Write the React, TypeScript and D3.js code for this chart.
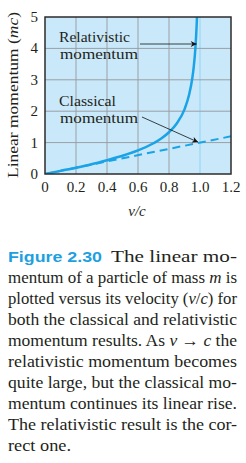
import React from 'react';
import * as d3 from 'd3';

// values
const relV = [0, 0.1, 0.2, 0.3, 0.4, 0.5, 0.6, 0.7, 0.75, 0.8, 0.85, 0.9, 0.93, 0.95, 0.96, 0.97, 0.975, 0.98, 0.984];
const relP = [0, 0.1, 0.2, 0.31, 0.44, 0.58, 0.75, 0.98, 1.13, 1.33, 1.61, 2.06, 2.53, 3.04, 3.43, 3.99, 4.4, 4.92, 5.5];
const clsV = [0, 1.2];
const clsP = [0, 1.2];
const xTicks = [0, 0.2, 0.4, 0.6, 0.8, 1.0, 1.2];
const yTicks = [0, 1, 2, 3, 4, 5];

const captionLines = [
  'mentum of a particle of mass ',
  'plotted versus its velocity (',
  'both the classical and relativistic',
  'momentum results. As ',
  'relativistic momentum becomes',
  'quite large, but the classical mo-',
  'mentum continues its linear rise.',
  'The relativistic result is the cor-',
  'rect one.',
];

const serif = '"Liberation Serif", "DejaVu Serif", serif';
const ink = '#231f20';

const App = () => {
  const width = 246;
  const height = 463;
  const left = 45, right = 231, top = 17, bottom = 174;

  const x = d3.scaleLinear().domain([0, 1.2]).range([left, right]);
  const y = d3.scaleLinear().domain([0, 5]).range([bottom, top]);

  const relLine = d3.line<number>()
    .x((d) => x(d))
    .y((d, i) => y(relP[i]))
    .curve(d3.curveMonotoneX);
  const clsLine = d3.line<number>()
    .x((d) => x(d))
    .y((d, i) => y(clsP[i]));

  const lineH = 21;
  const cap0 = 262;
  const capW = 229;

  return (
    <svg width={width} height={height} style={{ position: 'absolute', left: 0, top: 0, background: '#fff' }}>
      <defs>
        <clipPath id="plot">
          <rect x={left} y={top} width={right - left} height={bottom - top} />
        </clipPath>
        <marker id="arrow" viewBox="0 0 10 10" refX="10" refY="5" markerWidth="9" markerHeight="6" orient="auto" markerUnits="userSpaceOnUse">
          <path d="M0,0 L10,5 L0,10 L3,5 Z" fill="#111" />
        </marker>
      </defs>

      <rect x={left} y={top} width={right - left} height={bottom - top} fill="#c9e9fb" />
      {xTicks.slice(1, 5).map((t) => (
        <line key={'gx' + t} x1={x(t)} x2={x(t)} y1={top} y2={bottom} stroke="#9a9fa3" strokeWidth={1} />
      ))}
      <line x1={x(1)} x2={x(1)} y1={top} y2={bottom} stroke="#8fd3f5" strokeWidth={1} />
      {yTicks.slice(1, 5).map((t) => (
        <line key={'gy' + t} x1={left} x2={right} y1={y(t)} y2={y(t)} stroke="#9a9fa3" strokeWidth={1} />
      ))}

      <g clipPath="url(#plot)">
        <path d={clsLine(clsV) || ''} fill="none" stroke="#1aa3e6" strokeWidth={2} strokeDasharray="8,5" />
        <path d={relLine(relV) || ''} fill="none" stroke="#1aa3e6" strokeWidth={2.5} />
      </g>
      <rect x={left} y={top} width={right - left} height={bottom - top} fill="none" stroke="#2b2b2b" strokeWidth={1.5} />

      {/* annotations */}
      <g fontFamily={serif} fontSize={15.5} fill={ink}>
        <text x={59} y={42} textLength={71} lengthAdjust="spacingAndGlyphs">Relativistic</text>
        <text x={60} y={59} textLength={78} lengthAdjust="spacingAndGlyphs">momentum</text>
        <text x={59} y={106} textLength={57} lengthAdjust="spacingAndGlyphs">Classical</text>
        <text x={60} y={123} textLength={78} lengthAdjust="spacingAndGlyphs">momentum</text>
      </g>
      <line x1={140} y1={44} x2={x(0.985) - 1} y2={44} stroke="#111" strokeWidth={0.8} markerEnd="url(#arrow)" />
      <line x1={142} y1={117} x2={x(1) - 2} y2={y(1) - 0.5} stroke="#111" strokeWidth={0.8} markerEnd="url(#arrow)" />

      {/* axes labels */}
      <g fontFamily={serif} fontSize={15} fill={ink}>
        {yTicks.map((t) => (
          <text key={'yt' + t} x={38} y={y(t) + 5} textAnchor="end">{t}</text>
        ))}
        {xTicks.map((t) => (
          <text key={'xt' + t} x={x(t)} y={192} textAnchor="middle">{t === 0 ? '0' : t.toFixed(1)}</text>
        ))}
        <text x={137} y={216} textAnchor="middle" fontStyle="italic">v/c</text>
        <text transform={`translate(18,95) rotate(-90)`} textAnchor="middle" fontSize={15.5} textLength={166} lengthAdjust="spacingAndGlyphs">
          Linear momentum (<tspan fontStyle="italic">mc</tspan>)
        </text>
      </g>

      {/* caption */}
      <g fontFamily={serif} fontSize={16} fill={ink}>
        <text x={8} y={cap0} fontFamily='"Liberation Sans", Arial, sans-serif' fontWeight="bold" fill="#1e9fe0" fontSize={15.5} textLength={94} lengthAdjust="spacingAndGlyphs">
          Figure 2.30
        </text>
        <text x={111} y={cap0} textLength={126} lengthAdjust="spacingAndGlyphs">The linear mo-</text>
        <text x={8} y={cap0 + lineH} textLength={capW} lengthAdjust="spacingAndGlyphs">
          {captionLines[0]}<tspan fontStyle="italic">m</tspan> is
        </text>
        <text x={8} y={cap0 + lineH * 2} textLength={capW} lengthAdjust="spacingAndGlyphs">
          {captionLines[1]}<tspan fontStyle="italic">v</tspan>/<tspan fontStyle="italic">c</tspan>) for
        </text>
        <text x={8} y={cap0 + lineH * 3} textLength={capW} lengthAdjust="spacingAndGlyphs">{captionLines[2]}</text>
        <text x={8} y={cap0 + lineH * 4} textLength={capW} lengthAdjust="spacingAndGlyphs">
          {captionLines[3]}<tspan fontStyle="italic">v</tspan> → <tspan fontStyle="italic">c</tspan> the
        </text>
        {captionLines.slice(4, 8).map((s, i) => (
          <text key={s} x={8} y={cap0 + lineH * (5 + i)} textLength={capW} lengthAdjust="spacingAndGlyphs">{s}</text>
        ))}
        <text x={8} y={cap0 + lineH * 9} textLength={63} lengthAdjust="spacingAndGlyphs">{captionLines[8]}</text>
      </g>
    </svg>
  );
};

export default App;
